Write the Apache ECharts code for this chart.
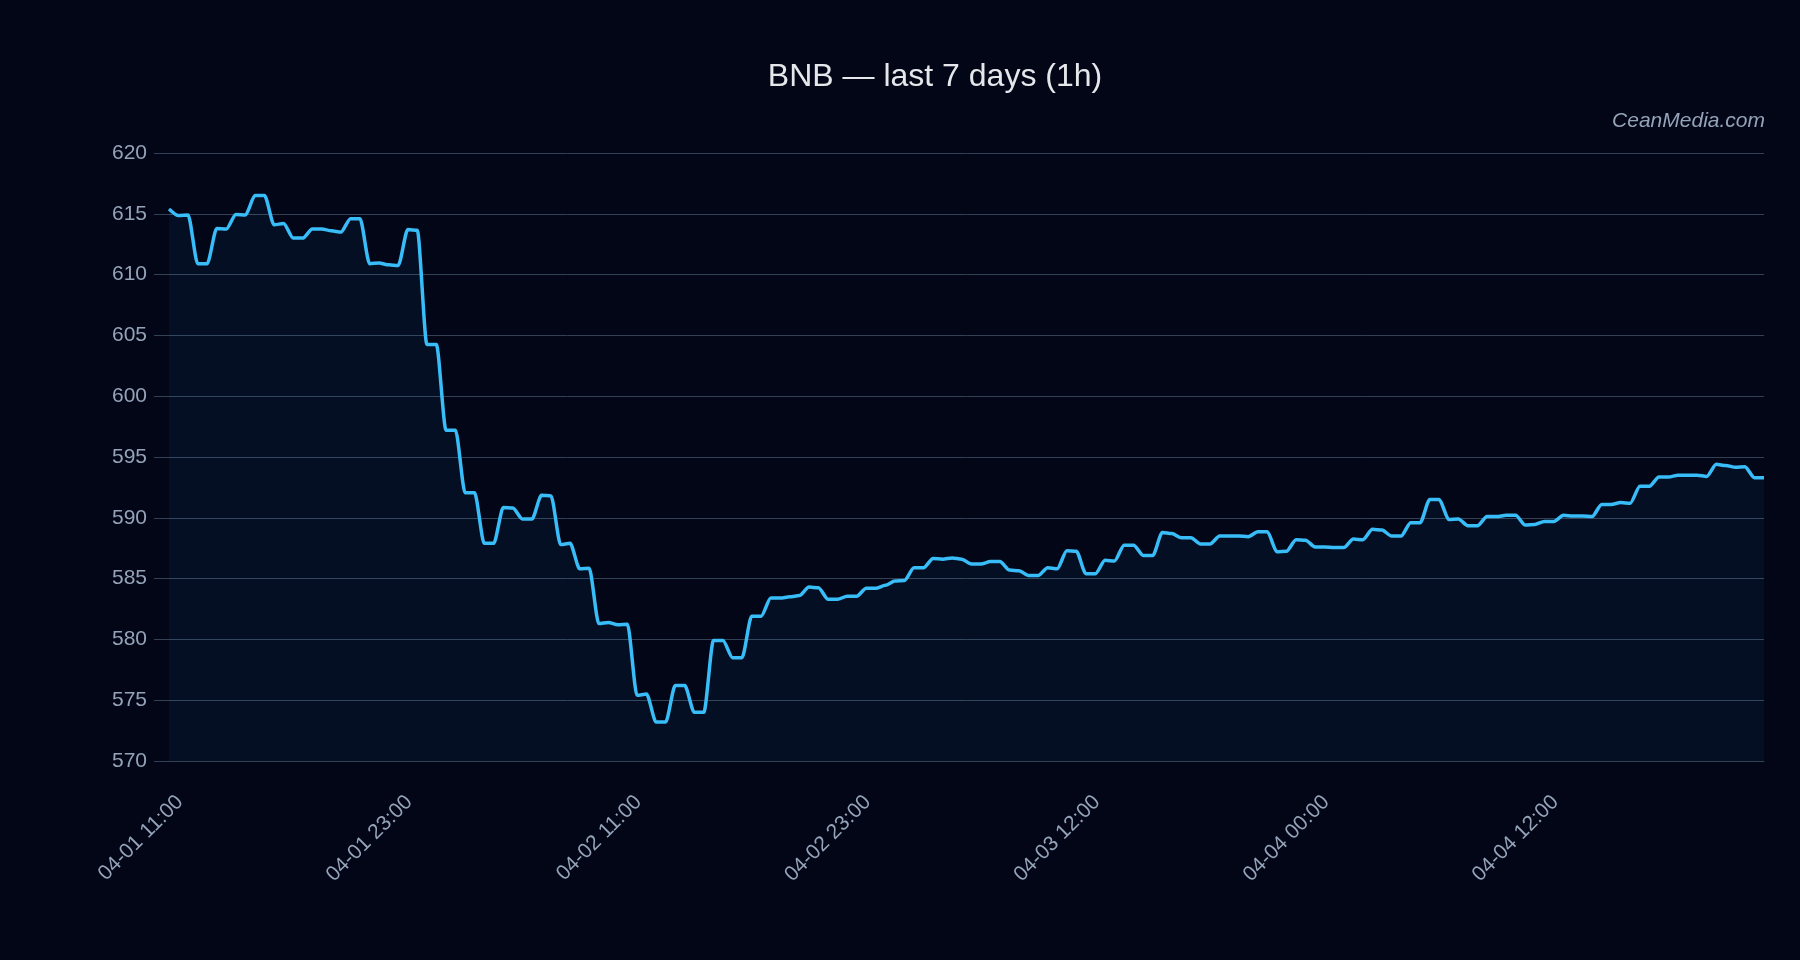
<!DOCTYPE html>
<html>
<head>
<meta charset="utf-8">
<title>BNB — last 7 days (1h)</title>
<script src="https://cdn.jsdelivr.net/npm/echarts@6/dist/echarts.min.js"></script>
<style>
  html, body { margin: 0; padding: 0; background: #020617; }
  #chart { width: 1800px; height: 960px; }
</style>
</head>
<body>
<div id="chart"></div>
<script>
// x-axis labels, one every 24 points
const tickLabels = ['04-01 11:00', '04-01 23:00', '04-02 11:00', '04-02 23:00', '04-03 12:00', '04-04 00:00', '04-04 12:00'];
const labelStep = 24;

// BNB price
const prices = [
  615.4, 614.85, 614.9, 610.9, 610.9, 613.8, 613.75, 614.95, 614.9, 616.5,
  616.5, 614.1, 614.2, 613.0, 613.0, 613.75, 613.75, 613.6, 613.5, 614.6,
  614.6, 610.9, 610.95, 610.8, 610.75, 613.7, 613.65, 604.25, 604.25, 597.2,
  597.2, 592.05, 592.05, 587.9, 587.9, 590.85, 590.8, 589.9, 589.9, 591.85,
  591.8, 587.8, 587.9, 585.8, 585.85, 581.3, 581.4, 581.2, 581.25, 575.4,
  575.5, 573.2, 573.2, 576.2, 576.2, 574.0, 574.0, 579.9, 579.9, 578.5,
  578.5, 581.9, 581.9, 583.4, 583.4, 583.5, 583.6, 584.3, 584.25, 583.3,
  583.3, 583.55, 583.55, 584.2, 584.2, 584.45, 584.8, 584.85, 585.9, 585.9,
  586.65, 586.6, 586.7, 586.6, 586.2, 586.2, 586.4, 586.4, 585.7, 585.65,
  585.25, 585.25, 585.9, 585.8, 587.3, 587.25, 585.4, 585.4, 586.5, 586.45,
  587.75, 587.75, 586.9, 586.9, 588.8, 588.7, 588.35, 588.35, 587.85, 587.85,
  588.5, 588.5, 588.5, 588.45, 588.85, 588.85, 587.2, 587.25, 588.2, 588.15,
  587.6, 587.6, 587.55, 587.55, 588.25, 588.2, 589.05, 589.0, 588.5, 588.5,
  589.6, 589.6, 591.5, 591.5, 589.85, 589.9, 589.35, 589.35, 590.1, 590.1,
  590.2, 590.2, 589.4, 589.45, 589.7, 589.7, 590.2, 590.15, 590.15, 590.1,
  591.1, 591.1, 591.25, 591.2, 592.6, 592.6, 593.35, 593.35, 593.5, 593.5,
  593.5, 593.4, 594.4, 594.3, 594.15, 594.2, 593.3, 593.3
];

const chart = echarts.init(document.getElementById('chart'));

const option = {
  animation: false,
  backgroundColor: '#020617',
  textStyle: { fontFamily: 'Liberation Sans' },
  title: [
    {
      text: 'BNB — last 7 days (1h)',
      left: 930,
      textAlign: 'center',
      top: 56,
      textStyle: { color: '#e5e7eb', fontSize: 32, fontWeight: 'normal' },
    },
    {
      text: 'CeanMedia.com',
      right: 30,
      top: 106,
      textStyle: { color: '#94a3b8', fontSize: 21, fontStyle: 'italic', fontWeight: 'normal' },
    },
  ],
  grid: { left: 169, right: 36, top: 153, bottom: 199 },
  xAxis: {
    type: 'category',
    boundaryGap: false,
    data: prices.map((_, i) => i),
    axisLine: { lineStyle: { color: '#334155' } },
    axisTick: { show: false },
    axisLabel: {
      interval: labelStep - 1,
      rotate: 45,
      color: '#94a3b8',
      fontSize: 21,
      margin: 27,
      verticalAlign: 'top',
      padding: [5, 0, 0, 0],
      formatter: (v, i) => tickLabels[i / labelStep] || '',
    },
  },
  yAxis: {
    type: 'value',
    min: 570,
    max: 620,
    interval: 5,
    axisLine: { show: false },
    axisTick: { show: true, length: 15, lineStyle: { color: '#334155' } },
    axisLabel: { color: '#94a3b8', fontSize: 21, margin: 22 },
    splitLine: { lineStyle: { color: '#334155' } },
  },
  series: [{
    type: 'line',
    data: prices,
    smooth: 0.25,
    smoothMonotone: 'x',
    symbol: 'none',
    lineStyle: { width: 3.5, color: '#38bdf8' },
    areaStyle: { color: 'rgba(56, 189, 248, 0.08)', origin: 'start' },
  }],
};

chart.setOption(option);
window.addEventListener('resize', () => chart.resize());
</script>
</body>
</html>
